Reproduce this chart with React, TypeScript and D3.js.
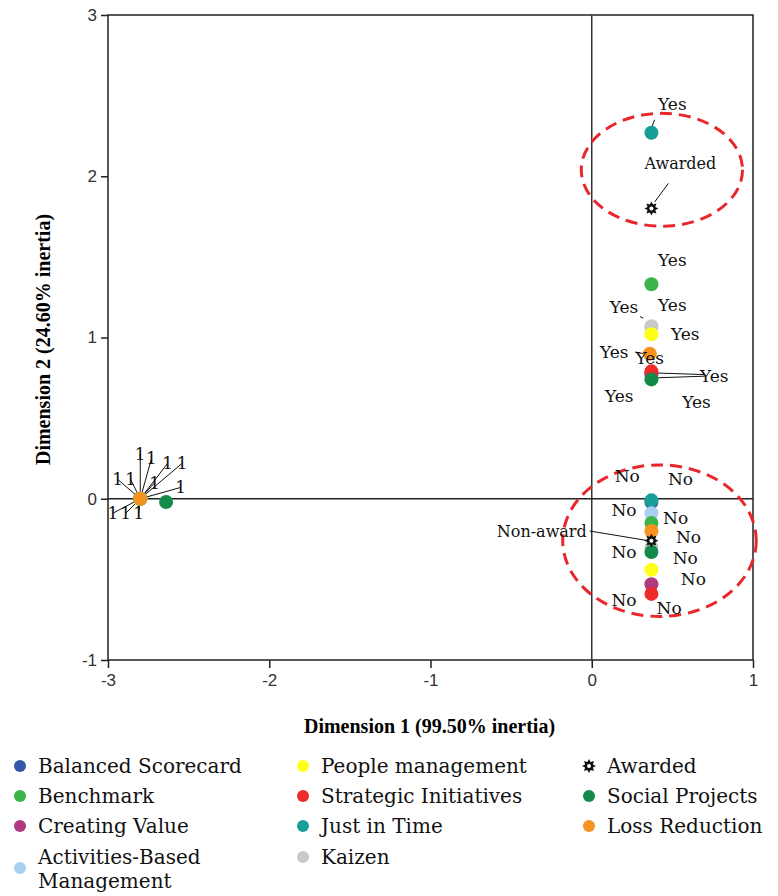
import React, { useEffect, useRef } from 'react';
import * as d3 from 'd3';

// variables (legend order) and colours
const variables = [
  'Balanced Scorecard', 'Benchmark', 'Creating Value', 'Activities-Based Management',
  'People management', 'Strategic Initiatives', 'Just in Time', 'Kaizen',
  'Social Projects', 'Loss Reduction',
];
const colors = [
  '#3556a8', '#3bb54a', '#b0397f', '#a9cff2',
  '#ffff1a', '#ee2b2b', '#179e98', '#c9c9c9',
  '#128a4a', '#f5931e',
];

// category points: [variable index, dim1, dim2] (drawn in order, last on top)
const onePoints = [
  [0, -2.80, 0.0], [2, -2.80, 0.0], [3, -2.80, 0.0], [4, -2.80, 0.0], [5, -2.80, 0.0],
  [6, -2.80, 0.0], [7, -2.80, 0.0], [1, -2.80, 0.0], [8, -2.64, -0.02], [9, -2.80, 0.0],
];
const yesPoints = [
  [0, 0.37, 0.77], [2, 0.37, 0.78], [3, 0.37, 1.06], [6, 0.37, 2.27], [1, 0.37, 1.33],
  [7, 0.37, 1.07], [4, 0.37, 1.02], [9, 0.36, 0.90], [5, 0.37, 0.79], [8, 0.37, 0.74],
];
const noPoints = [
  [0, 0.37, -0.02], [7, 0.37, -0.30], [6, 0.37, -0.01], [3, 0.37, -0.09], [1, 0.37, -0.15],
  [9, 0.37, -0.20], [8, 0.37, -0.33], [4, 0.37, -0.44], [2, 0.37, -0.53], [5, 0.37, -0.59],
];
const awardPoints = [
  ['Awarded', 0.37, 1.80],
  ['Non-award', 0.37, -0.26],
];

// label positions in dimension units
const oneLabels = [
  [-2.80, 0.28], [-2.73, 0.25], [-2.63, 0.22], [-2.54, 0.22], [-2.94, 0.12], [-2.86, 0.12],
  [-2.71, 0.10], [-2.55, 0.07], [-2.97, -0.09], [-2.89, -0.09], [-2.81, -0.09],
];
const yesLabels = [
  [0.50, 2.45], [0.50, 1.48], [0.20, 1.19], [0.50, 1.20], [0.58, 1.02],
  [0.14, 0.91], [0.36, 0.87], [0.76, 0.76], [0.17, 0.64], [0.65, 0.60],
];
const noLabels = [
  [0.22, 0.14], [0.55, 0.12], [0.20, -0.07], [0.52, -0.12], [0.60, -0.24],
  [0.20, -0.33], [0.58, -0.37], [0.63, -0.50], [0.20, -0.63], [0.48, -0.68],
];
const awardLabels = [
  ['Awarded', 0.55, 2.08, 0.39, 1.84],
  ['Non-award', -0.31, -0.20, 0.35, -0.26],
];
// extra leader lines [fromX, fromY, toX, toY]
const leaders = [
  [0.70, 0.76, 0.40, 0.75], [0.70, 0.77, 0.40, 0.78], [0.27, 0.91, 0.32, 0.90],
  [0.37, 2.30, 0.39, 2.35], [0.30, 1.13, 0.32, 1.12],
];

// highlight ellipses [cx, cy, rx, ry] in dimension units
const ellipses = [
  [0.435, 2.04, 0.50, 0.35],
  [0.42, -0.26, 0.60, 0.47],
];

const xTicks = [-3, -2, -1, 0, 1];
const yTicks = [-1, 0, 1, 2, 3];

const App = () => {
  const ref = useRef(null);

  useEffect(() => {
    const svg = d3.select(ref.current);
    svg.selectAll('*').remove();

    const left = 108, right = 753, top = 15, bottom = 660;
    const x = d3.scaleLinear().domain([-3, 1]).range([left, right]);
    const y = d3.scaleLinear().domain([-1, 3]).range([bottom, top]);

    const serif = '"DejaVu Serif", serif';

    // frame
    svg.append('rect')
      .attr('x', left).attr('y', top)
      .attr('width', right - left).attr('height', bottom - top)
      .attr('fill', 'none').attr('stroke', '#222').attr('stroke-width', 1.5);

    // reference lines
    svg.append('line')
      .attr('x1', x(0)).attr('x2', x(0)).attr('y1', top).attr('y2', bottom)
      .attr('stroke', '#333').attr('stroke-width', 1.5);
    svg.append('line')
      .attr('x1', left).attr('x2', right).attr('y1', y(0)).attr('y2', y(0))
      .attr('stroke', '#222').attr('stroke-width', 1.5);

    // axes
    const fmt = d => String(d);
    const xAxis = svg.append('g')
      .attr('transform', `translate(0,${bottom})`)
      .call(d3.axisBottom(x).tickValues(xTicks).tickSize(8).tickPadding(6).tickFormat(fmt));
    const yAxis = svg.append('g')
      .attr('transform', `translate(${left},0)`)
      .call(d3.axisLeft(y).tickValues(yTicks).tickSize(7).tickPadding(4).tickFormat(fmt));
    [xAxis, yAxis].forEach(a => {
      a.select('.domain').remove();
      a.selectAll('line').attr('stroke', '#222').attr('stroke-width', 1.5);
      a.selectAll('text')
        .style('font-family', '"Liberation Sans", Arial, sans-serif')
        .style('font-size', '17px')
        .attr('fill', '#333');
    });

    // axis titles
    svg.append('text')
      .attr('x', (left + right) / 2 - 1).attr('y', 733)
      .attr('text-anchor', 'middle')
      .style('font-family', '"Liberation Serif", serif')
      .style('font-weight', 'bold').style('font-size', '20px')
      .text('Dimension 1 (99.50% inertia)');
    svg.append('text')
      .attr('transform', `translate(50,${(top + bottom) / 2 + 2}) rotate(-90)`)
      .attr('text-anchor', 'middle')
      .style('font-family', '"Liberation Serif", serif')
      .style('font-weight', 'bold').style('font-size', '20px')
      .text('Dimension 2 (24.60% inertia)');

    // ellipses
    svg.selectAll('ellipse.hl')
      .data(ellipses).enter().append('ellipse')
      .attr('cx', d => x(d[0])).attr('cy', d => y(d[1]))
      .attr('rx', d => x(d[2]) - x(0)).attr('ry', d => y(0) - y(d[3]))
      .attr('fill', 'none').attr('stroke', '#e8262b')
      .attr('stroke-width', 3).attr('stroke-dasharray', '12 7');

    // leader lines
    const lines = svg.append('g').attr('stroke', '#111').attr('stroke-width', 1);
    oneLabels.forEach(d => {
      lines.append('line')
        .attr('x1', x(d[0])).attr('y1', y(d[1]))
        .attr('x2', x(-2.80)).attr('y2', y(0));
    });
    leaders.forEach(d => {
      lines.append('line')
        .attr('x1', x(d[0])).attr('y1', y(d[1])).attr('x2', x(d[2])).attr('y2', y(d[3]));
    });
    awardLabels.forEach(d => {
      const tx = d[0] === 'Awarded' ? x(d[1]) - 12 : x(d[1]) + 48;
      const ty = d[0] === 'Awarded' ? y(d[2]) + 20 : y(d[2]);
      lines.append('line')
        .attr('x1', tx).attr('y1', ty).attr('x2', x(d[3])).attr('y2', y(d[4]));
    });

    // category points
    const pts = svg.append('g');
    [onePoints, yesPoints, noPoints].forEach(set => {
      pts.selectAll(null)
        .data(set).enter().append('circle')
        .attr('cx', d => x(d[1])).attr('cy', d => y(d[2]))
        .attr('r', 7)
        .attr('fill', d => colors[d[0]]);
    });

    // awarded stars
    const starPath = (r0, r1, n) => {
      const p = [];
      for (let i = 0; i < n * 2; i++) {
        const r = i % 2 === 0 ? r0 : r1;
        const a = (Math.PI * i) / n - Math.PI / 2;
        p.push([r * Math.cos(a), r * Math.sin(a)]);
      }
      return d3.line()(p) + 'Z';
    };
    awardPoints.forEach(d => {
      const g = svg.append('g').attr('transform', `translate(${x(d[1])},${y(d[2])})`);
      g.append('path').attr('d', starPath(7, 4.2, 8)).attr('fill', '#111');
      g.append('circle').attr('r', 2).attr('fill', '#fff');
    });

    // point labels
    const lab = svg.append('g')
      .style('font-family', serif).style('font-size', '16px')
      .attr('fill', '#111').attr('text-anchor', 'middle')
      .attr('dominant-baseline', 'central');
    oneLabels.forEach(d => {
      lab.append('text').attr('x', x(d[0])).attr('y', y(d[1])).style('font-size', '17px').text('1');
    });
    yesLabels.forEach(d => {
      lab.append('text').attr('x', x(d[0])).attr('y', y(d[1])).style('font-size', '17px').text('Yes');
    });
    noLabels.forEach(d => {
      lab.append('text').attr('x', x(d[0])).attr('y', y(d[1])).style('font-size', '17px').text('No');
    });
    awardLabels.forEach(d => {
      lab.append('text').attr('x', x(d[1])).attr('y', y(d[2])).text(d[0]);
    });

    // legend
    const legendItems = [
      { name: 'Balanced Scorecard', c: colors[0], col: 0, row: 0 },
      { name: 'Benchmark', c: colors[1], col: 0, row: 1 },
      { name: 'Creating Value', c: colors[2], col: 0, row: 2 },
      { name: 'Activities-Based|Management', c: colors[3], col: 0, row: 3 },
      { name: 'People management', c: colors[4], col: 1, row: 0 },
      { name: 'Strategic Initiatives', c: colors[5], col: 1, row: 1 },
      { name: 'Just in Time', c: colors[6], col: 1, row: 2 },
      { name: 'Kaizen', c: colors[7], col: 1, row: 3 },
      { name: 'Awarded', c: null, col: 2, row: 0 },
      { name: 'Social Projects', c: colors[8], col: 2, row: 1 },
      { name: 'Loss Reduction', c: colors[9], col: 2, row: 2 },
    ];
    const colX = [20, 303, 589];
    const rowY = [766, 796, 826, 857];
    const leg = svg.append('g');
    legendItems.forEach(it => {
      const parts = it.name.split('|');
      const cx = colX[it.col], ty = rowY[it.row];
      const cy = parts.length > 1 ? ty + 11 : ty;
      if (it.c) {
        leg.append('circle').attr('cx', cx).attr('cy', cy).attr('r', 6).attr('fill', it.c);
      } else {
        const g = leg.append('g').attr('transform', `translate(${cx},${cy})`);
        g.append('path').attr('d', starPath(7, 4.2, 8)).attr('fill', '#111');
        g.append('circle').attr('r', 2).attr('fill', '#fff');
      }
      const t = leg.append('text')
        .attr('y', ty)
        .attr('dominant-baseline', 'central')
        .style('font-family', serif).style('font-size', '20px')
        .attr('fill', '#111');
      parts.forEach((p, i) => {
        t.append('tspan').attr('x', cx + 18).attr('dy', i === 0 ? 0 : 24).text(p);
      });
    });
  }, []);

  return (
    <svg ref={ref} width={778} height={896}
      style={{ position: 'absolute', left: 0, top: 0, background: '#fff' }} />
  );
};

export default App;
